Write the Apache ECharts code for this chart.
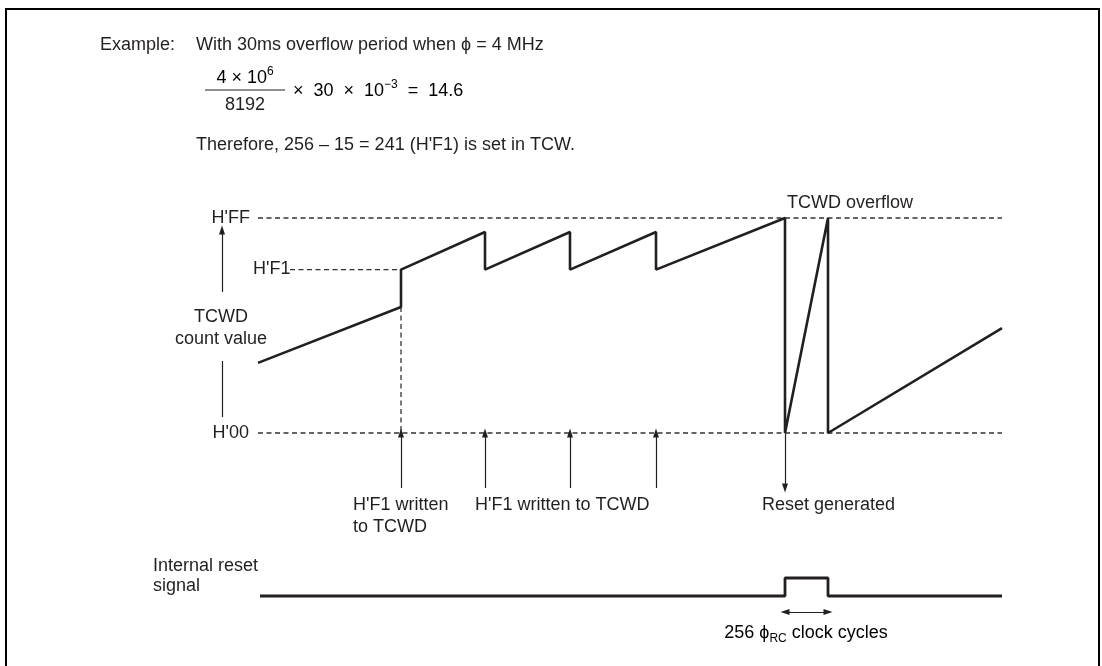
<!DOCTYPE html>
<html>
<head>
<meta charset="utf-8">
<script src="https://cdn.jsdelivr.net/npm/echarts@6/dist/echarts.min.js"></script>
<style>html,body{margin:0;padding:0;background:#fff;}#c{width:1102px;height:666px;}</style>
</head>
<body>
<div id="c"></div>
<script>
// ---- data (schematic time units t, schematic count units 0..100) ----
const countT = [0, 143, 143, 227, 227, 312, 312, 398, 398, 527, 527, 570, 570, 744];
const countV = [32.6, 58.6, 76, 93.5, 76, 93.5, 76, 93.5, 76, 100, 0, 100, 0, 48.8];
const levelNames = ["H'FF", "H'F1", "H'00"];
const levelV = [100, 76, 0];
const levelStartT = [0, 32, 0];
const levelEndT = [744, 143, 744];
const writeT = [143, 227, 312, 398];
const resetGenT = 527;
const resetT = [2, 527, 527, 570, 570, 744];
const resetV = [0, 0, 1, 1, 0, 0];
const pulseT = [527, 570];
const arrowLowV = -25.6;
const clockArrowV = -0.89;

const INK = '#231f20';
const DASH = '#333333';
const FONT = '"Liberation Sans", Arial, Helvetica, sans-serif';
const FS = 18;

const rich = {
  n: {fontSize: FS, fontFamily: FONT, color: INK, lineHeight: 24, verticalAlign: 'middle'},
  s: {fontSize: 12, fontFamily: FONT, color: INK, lineHeight: 14, verticalAlign: 'top'},
  b: {fontSize: 12, fontFamily: FONT, color: INK, lineHeight: 12, verticalAlign: 'bottom'}
};

function txt(s, x, y, align) {
  return {type: 'text', silent: true, style: {text: s, x: x, y: y, align: align || 'left', verticalAlign: 'middle', font: FS + 'px ' + FONT, fill: INK}};
}
function rtxt(s, x, y, align) {
  return {type: 'text', silent: true, style: {text: s, x: x, y: y, align: align || 'left', verticalAlign: 'middle', rich: rich}};
}

const chart = echarts.init(document.getElementById('c'), null, {renderer: 'canvas'});

function pairs(ts, vs) { return ts.map((t, i) => [t, vs[i]]); }
const dashStyle = {color: DASH, width: 1.3, type: [5, 3.5]};
const arrowLine = {color: INK, width: 1.2, type: 'solid'};
const headPath = 'path://M5,0 L10,16 L0,16 Z';

const dashSeries = levelV.map((v, i) => ({
  type: 'line', xAxisIndex: 0, yAxisIndex: 0, symbol: 'none', silent: true, animation: false,
  data: [[levelStartT[i], v], [levelEndT[i], v]],
  lineStyle: dashStyle, z: 1
}));
dashSeries.push({
  type: 'line', xAxisIndex: 0, yAxisIndex: 0, symbol: 'none', silent: true, animation: false,
  data: [[writeT[0], countV[1]], [writeT[0], 0]], lineStyle: dashStyle, z: 1
});

function arrow(from, to, both) {
  return [
    {coord: from, symbol: both ? headPath : 'none', symbolSize: [6, 9]},
    {coord: to, symbol: headPath, symbolSize: [6, 9]}
  ];
}

const mainArrows = writeT.map(t => arrow([t, arrowLowV], [t, 0]));
mainArrows.push(arrow([resetGenT, 0], [resetGenT, arrowLowV]));
mainArrows.push(arrow([-36, 65.6], [-36, 94.4]));
mainArrows.push([{coord: [-36, 33.5], symbol: 'none'}, {coord: [-36, 7.4], symbol: 'none'}]);

const option = {
  animation: false,
  backgroundColor: '#fff',
  grid: [
    {left: 200, right: 80, top: 196.5, height: 301},
    {left: 200, right: 80, top: 569, height: 54}
  ],
  xAxis: [
    {type: 'value', gridIndex: 0, min: -58, max: 764, show: false},
    {type: 'value', gridIndex: 1, min: -58, max: 764, show: false}
  ],
  yAxis: [
    {type: 'value', gridIndex: 0, min: -30, max: 110, show: false},
    {type: 'value', gridIndex: 1, min: -1.5, max: 1.5, show: false}
  ],
  series: [
    ...dashSeries,
    {
      type: 'line', xAxisIndex: 0, yAxisIndex: 0, symbol: 'none', silent: true, z: 3,
      data: pairs(countT, countV),
      lineStyle: {color: INK, width: 2.6},
      markLine: {
        silent: true, animation: false, label: {show: false},
        lineStyle: arrowLine, emphasis: {disabled: true},
        data: mainArrows
      }
    },
    {
      type: 'line', xAxisIndex: 1, yAxisIndex: 1, symbol: 'none', silent: true, z: 3,
      data: pairs(resetT, resetV),
      lineStyle: {color: INK, width: 2.8},
      markLine: {
        silent: true, animation: false, label: {show: false},
        lineStyle: arrowLine, emphasis: {disabled: true},
        data: [arrow([pulseT[0], clockArrowV], [pulseT[1], clockArrowV], true)]
      }
    }
  ],
  graphic: [
    {type: 'rect', shape: {x: 6, y: 9, width: 1093, height: 700}, style: {fill: 'none', stroke: '#000', lineWidth: 2}, silent: true},
    txt('Example:', 100, 45),
    txt('With 30ms overflow period when \u03D5 = 4 MHz', 196, 45),
    rtxt('{n|4 \u00D7 10}{s|6}', 245, 78, 'center'),
    {type: 'line', silent: true, shape: {x1: 205, y1: 90, x2: 285, y2: 90}, style: {stroke: INK, lineWidth: 1.2}},
    txt('8192', 245, 105, 'center'),
    rtxt('{n|\u00D7  30  \u00D7  10}{s|\u22123}{n|  =  14.6}', 293, 91),
    txt('Therefore, 256 \u2013 15 = 241 (H\'F1) is set in TCW.', 196, 145),
    txt(levelNames[0], 250, 218, 'right'),
    txt(levelNames[1], 253, 269),
    txt(levelNames[2], 249, 433, 'right'),
    txt('TCWD', 221, 317, 'center'),
    txt('count value', 221, 339, 'center'),
    txt('TCWD overflow', 787, 203),
    txt('H\'F1 written', 353, 505),
    txt('to TCWD', 353, 527),
    txt('H\'F1 written to TCWD', 475, 505),
    txt('Reset generated', 762, 505),
    txt('Internal reset', 153, 566),
    txt('signal', 153, 586),
    rtxt('{n|256 \u03D5}{b|RC}{n| clock cycles}', 806, 633, 'center')
  ]
};

chart.setOption(option);
</script>
</body>
</html>
